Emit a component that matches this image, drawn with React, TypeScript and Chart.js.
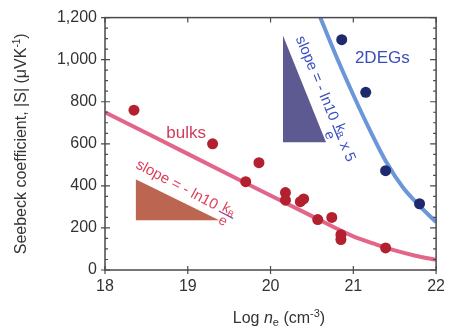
import { useEffect, useRef } from "react";
import { Chart, registerables } from "chart.js";
Chart.register(...registerables);

const xTickValues = [18, 19, 20, 21, 22];
const yTickValues = [0, 200, 400, 600, 800, 1000, 1200];

const bulkLogN = [18.35, 19.3, 19.7, 19.86, 20.18, 20.18, 20.36, 20.4, 20.57, 20.74, 20.85, 20.85, 21.39];
const bulkS = [760, 600, 420, 510, 368, 332, 325, 338, 240, 250, 168, 145, 105];

const degLogN = [20.86, 21.15, 21.39, 21.8];
const degS = [1095, 845, 472, 315];

const bulkCurveLogN = [18, 18.5, 19, 19.5, 20, 20.5, 21, 21.25, 21.5, 21.75, 22];
const bulkCurveS = [750, 651, 552, 453, 354, 256, 160, 125, 93, 68, 48];

const degCurveLogN = [20.55, 20.8, 21.0, 21.2, 21.4, 21.6, 21.8, 22];
const degCurveS = [1250, 1010, 832, 665, 512, 392, 305, 228];

const bulkTriLogN = [18.37, 19.38];
const bulkTriS = [432, 237];
const degTriLogN = [20.15, 20.67];
const degTriS = [1115, 607];

const FONT = '"Liberation Sans", Arial, Helvetica, sans-serif';

type Run = { t: string; size: number; italic?: boolean; dy?: number };

function setFont(ctx: CanvasRenderingContext2D, r: Run) {
  ctx.font = `${r.italic ? "italic " : ""}${r.size}px ${FONT}`;
}
function runsWidth(ctx: CanvasRenderingContext2D, runs: Run[]) {
  let w = 0;
  for (const r of runs) {
    setFont(ctx, r);
    w += ctx.measureText(r.t).width;
  }
  return w;
}
function drawRuns(ctx: CanvasRenderingContext2D, runs: Run[], x: number, y: number) {
  let cx = x;
  for (const r of runs) {
    setFont(ctx, r);
    ctx.fillText(r.t, cx, y + (r.dy || 0));
    cx += ctx.measureText(r.t).width;
  }
}

function drawSlope(
  ctx: CanvasRenderingContext2D,
  x: number,
  y: number,
  angle: number,
  color: string,
  barColor: string,
  suffix: string
) {
  ctx.save();
  ctx.translate(x, y);
  ctx.rotate(angle);
  ctx.fillStyle = color;
  ctx.textAlign = "left";
  ctx.textBaseline = "alphabetic";
  const pre: Run[] = [{ t: "slope = - ln10 ", size: 15 }];
  const suf: Run[] = suffix ? [{ t: suffix, size: 15 }] : [];
  const numRuns: Run[] = [
    { t: "k", size: 14 },
    { t: "B", size: 9, dy: 2 },
  ];
  const denRuns: Run[] = [{ t: "e", size: 14 }];
  const wPre = runsWidth(ctx, pre);
  const wNum = runsWidth(ctx, numRuns);
  const wDen = runsWidth(ctx, denRuns);
  const wFrac = Math.max(wNum, wDen) + 3;
  const wSuf = suf.length ? runsWidth(ctx, suf) : 0;
  const total = wPre + wFrac + wSuf;
  let sx = -total / 2;
  const base = 5;
  const lineY = base - 1;
  drawRuns(ctx, pre, sx, base);
  sx += wPre;
  drawRuns(ctx, numRuns, sx + (wFrac - wNum) / 2, lineY - 2);
  drawRuns(ctx, denRuns, sx + (wFrac - wDen) / 2, lineY + 11);
  ctx.strokeStyle = barColor;
  ctx.lineWidth = 1.3;
  ctx.beginPath();
  ctx.moveTo(sx, lineY);
  ctx.lineTo(sx + wFrac, lineY);
  ctx.stroke();
  sx += wFrac;
  if (suf.length) drawRuns(ctx, suf, sx, base);
  ctx.restore();
}

const decorPlugin = {
  id: "decor",
  afterDraw(chart: any) {
    const ctx: CanvasRenderingContext2D = chart.ctx;
    const { left, right, top, bottom } = chart.chartArea;
    const xs = chart.scales.x;
    const ys = chart.scales.y;
    ctx.save();
    // frame
    ctx.strokeStyle = "#4a4a4a";
    ctx.lineWidth = 1.5;
    ctx.strokeRect(left, top, right - left, bottom - top);
    ctx.lineWidth = 1.2;
    ctx.beginPath();
    for (let v = 0; v <= 1200; v += 50) {
      const py = ys.getPixelForValue(v);
      const major = v % 200 === 0;
      if (major) {
        ctx.moveTo(left - 4, py);
        ctx.lineTo(left + 5, py);
        ctx.moveTo(right - 6, py);
        ctx.lineTo(right, py);
      } else {
        ctx.moveTo(left, py);
        ctx.lineTo(left + 3, py);
        ctx.moveTo(right - 3, py);
        ctx.lineTo(right, py);
      }
    }
    for (const v of xTickValues) {
      const px = xs.getPixelForValue(v);
      ctx.moveTo(px, bottom - 4);
      ctx.lineTo(px, bottom + 4);
      ctx.moveTo(px, top);
      ctx.lineTo(px, top + 5);
    }
    ctx.stroke();

    // annotations
    ctx.textAlign = "center";
    ctx.textBaseline = "middle";
    ctx.font = `17px ${FONT}`;
    ctx.fillStyle = "#d23c5c";
    ctx.fillText("bulks", xs.getPixelForValue(18.98), ys.getPixelForValue(650));
    ctx.fillStyle = "#3a4db8";
    ctx.fillText("2DEGs", xs.getPixelForValue(21.35), ys.getPixelForValue(1005));

    drawSlope(
      ctx,
      xs.getPixelForValue(18.98),
      ys.getPixelForValue(385),
      (28 * Math.PI) / 180,
      "#e0405c",
      "#8c3c8c",
      ""
    );
    drawSlope(
      ctx,
      xs.getPixelForValue(20.67),
      ys.getPixelForValue(815),
      (67.5 * Math.PI) / 180,
      "#3d52c0",
      "#3d52c0",
      " x 5"
    );

    // axis titles
    ctx.fillStyle = "#333333";
    ctx.textAlign = "left";
    ctx.textBaseline = "alphabetic";
    const yTitle: Run[] = [
      { t: "Seebeck coefficient, |S| (\u03bcVK", size: 16 },
      { t: "-1", size: 10, dy: -6 },
      { t: ")", size: 16 },
    ];
    const wy = runsWidth(ctx, yTitle);
    ctx.save();
    ctx.translate(26, (top + bottom) / 2);
    ctx.rotate(-Math.PI / 2);
    drawRuns(ctx, yTitle, -wy / 2, 0);
    ctx.restore();

    const xTitle: Run[] = [
      { t: "Log ", size: 16 },
      { t: "n", size: 16, italic: true },
      { t: "e", size: 11, dy: 3 },
      { t: " (cm", size: 16 },
      { t: "-3", size: 11, dy: -6 },
      { t: ")", size: 16 },
    ];
    const wx = runsWidth(ctx, xTitle);
    drawRuns(ctx, xTitle, 279 - wx / 2, 323);
    ctx.restore();
  },
};

const pts = (xa: number[], ya: number[]) => xa.map((x, i) => ({ x, y: ya[i] }));

export default function App() {
  const ref = useRef<HTMLCanvasElement | null>(null);
  useEffect(() => {
    if (!ref.current) return;
    const chart = new Chart(ref.current, {
      type: "scatter",
      data: {
        datasets: [
          {
            type: "scatter",
            data: pts(bulkLogN, bulkS),
            backgroundColor: "#b3202e",
            borderWidth: 0,
            pointRadius: 5.5,
            order: 0,
          } as any,
          {
            type: "scatter",
            data: pts(degLogN, degS),
            backgroundColor: "#1f2a6e",
            borderWidth: 0,
            pointRadius: 5.5,
            order: 0,
          } as any,
          {
            type: "line",
            data: pts(bulkCurveLogN, bulkCurveS),
            borderColor: "#e2668a",
            borderWidth: 4,
            pointRadius: 0,
            cubicInterpolationMode: "monotone",
            fill: false,
            order: 1,
          } as any,
          {
            type: "line",
            data: pts(degCurveLogN, degCurveS),
            borderColor: "#6b96da",
            borderWidth: 4,
            pointRadius: 0,
            cubicInterpolationMode: "monotone",
            fill: false,
            order: 1,
          } as any,
          {
            type: "line",
            data: pts(bulkTriLogN, bulkTriS),
            borderWidth: 0,
            borderColor: "rgba(0,0,0,0)",
            pointRadius: 0,
            fill: { value: bulkTriS[1] },
            backgroundColor: "#bc6550",
            order: 2,
          } as any,
          {
            type: "line",
            data: pts(degTriLogN, degTriS),
            borderWidth: 0,
            borderColor: "rgba(0,0,0,0)",
            pointRadius: 0,
            fill: { value: degTriS[1] },
            backgroundColor: "#5c5a91",
            order: 2,
          } as any,
        ],
      },
      options: {
        responsive: false,
        animation: false,
        devicePixelRatio: 1,
        layout: { padding: { left: 0, top: 17, right: 14, bottom: 0 } },
        plugins: { legend: { display: false }, tooltip: { enabled: false } },
        scales: {
          x: {
            type: "linear",
            min: 18,
            max: 22,
            afterBuildTicks: (s: any) => {
              s.ticks = xTickValues.map((v) => ({ value: v }));
            },
            afterFit: (s: any) => {
              s.height = 60;
            },
            ticks: {
              font: { size: 16, family: FONT },
              color: "#333333",
              padding: 7,
            },
            grid: { display: false, drawTicks: false },
            border: { display: false },
          },
          y: {
            type: "linear",
            min: 0,
            max: 1200,
            afterBuildTicks: (s: any) => {
              s.ticks = yTickValues.map((v) => ({ value: v }));
            },
            afterFit: (s: any) => {
              s.width = 105;
            },
            ticks: {
              font: { size: 16, family: FONT },
              color: "#333333",
              padding: 8,
              callback: (v: any) => Number(v).toLocaleString("en-US"),
            },
            grid: { display: false, drawTicks: false },
            border: { display: false },
          },
        },
      },
      plugins: [decorPlugin],
    } as any);
    return () => chart.destroy();
  }, []);
  return (
    <div style={{ position: "absolute", left: 0, top: 0, width: 452, height: 330, background: "#ffffff" }}>
      <canvas ref={ref} width={452} height={330} />
    </div>
  );
}
